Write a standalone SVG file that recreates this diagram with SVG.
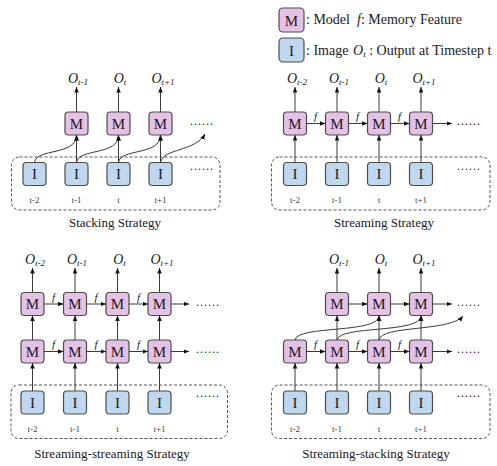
<svg xmlns="http://www.w3.org/2000/svg" width="497" height="466" viewBox="0 0 497 466" font-family="'Liberation Serif', 'DejaVu Serif', serif">
<defs>
<marker id="ah" markerUnits="userSpaceOnUse" markerWidth="6" markerHeight="5" refX="5.5" refY="2.25" orient="auto"><path d="M0,0 L5.5,2.25 L0,4.5 z" fill="#111"/></marker>
</defs>
<style>
svg text, svg tspan{font-family:'Liberation Serif','DejaVu Serif',serif;fill:#1a1a1a}
.m{fill:#E5C1E6;stroke:#4d4d4d;stroke-width:1.2}
.i{fill:#BFD8EF;stroke:#4d4d4d;stroke-width:1.2}
.bl{font-size:15px;text-anchor:middle}
.c{stroke:#3a3a3a;stroke-width:1;fill:none;marker-end:url(#ah)}
.dash{fill:none;stroke:#555;stroke-width:1;stroke-dasharray:3 2}
.ts{font-size:9px;text-anchor:middle;fill:#444}
.title{font-size:13px;text-anchor:middle}
.out{font-size:14px;font-style:italic;text-anchor:middle}
.sub{font-size:9px}
.f{font-size:11px;font-style:italic;text-anchor:middle}
.dots{font-size:12px;letter-spacing:1px}
.leg{font-size:14px}
</style>

<!-- Legend -->
<g id="legend">
<g id="leg-m"><rect class="m" x="279" y="8" width="25" height="24" rx="4"/><text class="bl" x="291.5" y="25.5">M</text></g>
<text class="leg" x="306" y="24">: Model</text>
<text class="leg" x="357" y="24"><tspan font-style="italic">f</tspan>: Memory Feature</text>
<g id="leg-i"><rect class="i" x="279" y="38" width="25" height="24" rx="4"/><text class="bl" x="291.5" y="55.5">I</text></g>
<text class="leg" x="306" y="55">: Image</text>
<text class="leg" x="353" y="55"><tspan font-style="italic">O</tspan><tspan font-style="italic" font-size="9" dy="2">t</tspan><tspan dy="-2"> : Output at Timestep t</tspan></text>
</g>

<!-- ===== Panel 1: Stacking ===== -->
<g id="p1-frame"><rect class="dash" x="11.5" y="157" width="208.5" height="53" rx="8"/></g>
<g id="p1-I0"><rect class="i" x="23" y="162.5" width="23" height="23" rx="3.5"/><text class="bl" x="34.5" y="179">I</text></g>
<g id="p1-I1"><rect class="i" x="65" y="162.5" width="23" height="23" rx="3.5"/><text class="bl" x="76.5" y="179">I</text></g>
<g id="p1-I2"><rect class="i" x="107" y="162.5" width="23" height="23" rx="3.5"/><text class="bl" x="118.5" y="179">I</text></g>
<g id="p1-I3"><rect class="i" x="149" y="162.5" width="23" height="23" rx="3.5"/><text class="bl" x="160.5" y="179">I</text></g>
<g id="p1-M1"><rect class="m" x="65" y="112" width="23" height="23" rx="3.5"/><text class="bl" x="76.5" y="128.5">M</text></g>
<g id="p1-M2"><rect class="m" x="107" y="112" width="23" height="23" rx="3.5"/><text class="bl" x="118.5" y="128.5">M</text></g>
<g id="p1-M3"><rect class="m" x="149" y="112" width="23" height="23" rx="3.5"/><text class="bl" x="160.5" y="128.5">M</text></g>
<g id="p1-labels">
<text class="out" x="78" y="83">O<tspan class="sub" dy="2">t-1</tspan></text>
<text class="out" x="120" y="83">O<tspan class="sub" dy="2">t</tspan></text>
<text class="out" x="163" y="83">O<tspan class="sub" dy="2">t+1</tspan></text>
<text class="ts" x="34.5" y="203">t-2</text><text class="ts" x="76.5" y="203">t-1</text><text class="ts" x="118.5" y="203">t</text><text class="ts" x="160.5" y="203">t+1</text>
<text class="dots" x="190" y="125">......</text>
<text class="dots" x="190" y="169.5">......</text>
<text class="title" x="115" y="227">Stacking Strategy</text>
</g>
<g id="p1-connectors">
<path class="c" d="M76.5,162.5 V135"/>
<path class="c" d="M118.5,162.5 V135"/>
<path class="c" d="M160.5,162.5 V135"/>
<path class="c" d="M34.5,162.5 C36,148 76.5,156 76.5,135"/>
<path class="c" d="M76.5,162.5 C78,148 118.5,156 118.5,135"/>
<path class="c" d="M118.5,162.5 C120,148 160.5,156 160.5,135"/>
<path class="c" d="M160.5,162.5 C163,148 195,152 205,134"/>
<path class="c" d="M76.5,112 V87"/>
<path class="c" d="M118.5,112 V87"/>
<path class="c" d="M160.5,112 V87"/>
</g>

<!-- ===== Panel 2: Streaming ===== -->
<g id="p2-frame"><rect class="dash" x="271.5" y="157" width="218.5" height="53" rx="8"/></g>
<g id="p2-I0"><rect class="i" x="283.5" y="162.5" width="23" height="23" rx="3.5"/><text class="bl" x="295" y="179">I</text></g>
<g id="p2-I1"><rect class="i" x="325.5" y="162.5" width="23" height="23" rx="3.5"/><text class="bl" x="337" y="179">I</text></g>
<g id="p2-I2"><rect class="i" x="367.5" y="162.5" width="23" height="23" rx="3.5"/><text class="bl" x="379" y="179">I</text></g>
<g id="p2-I3"><rect class="i" x="409.5" y="162.5" width="23" height="23" rx="3.5"/><text class="bl" x="421" y="179">I</text></g>
<g id="p2-M0"><rect class="m" x="283.5" y="112" width="23" height="23" rx="3.5"/><text class="bl" x="295" y="128.5">M</text></g>
<g id="p2-M1"><rect class="m" x="325.5" y="112" width="23" height="23" rx="3.5"/><text class="bl" x="337" y="128.5">M</text></g>
<g id="p2-M2"><rect class="m" x="367.5" y="112" width="23" height="23" rx="3.5"/><text class="bl" x="379" y="128.5">M</text></g>
<g id="p2-M3"><rect class="m" x="409.5" y="112" width="23" height="23" rx="3.5"/><text class="bl" x="421" y="128.5">M</text></g>
<g id="p2-labels">
<text class="out" x="297" y="83">O<tspan class="sub" dy="2">t-2</tspan></text>
<text class="out" x="339" y="83">O<tspan class="sub" dy="2">t-1</tspan></text>
<text class="out" x="381" y="83">O<tspan class="sub" dy="2">t</tspan></text>
<text class="out" x="424" y="83">O<tspan class="sub" dy="2">t+1</tspan></text>
<text class="f" x="315.5" y="120">f</text><text class="f" x="357.5" y="120">f</text><text class="f" x="399.5" y="120">f</text>
<text class="ts" x="295" y="203">t-2</text><text class="ts" x="337" y="203">t-1</text><text class="ts" x="379" y="203">t</text><text class="ts" x="421" y="203">t+1</text>
<text class="dots" x="457" y="125">......</text>
<text class="dots" x="457" y="169.5">......</text>
<text class="title" x="384" y="227">Streaming Strategy</text>
</g>
<g id="p2-connectors">
<path class="c" d="M295,162.5 V135"/><path class="c" d="M337,162.5 V135"/><path class="c" d="M379,162.5 V135"/><path class="c" d="M421,162.5 V135"/>
<path class="c" d="M295,112 V87"/><path class="c" d="M337,112 V87"/><path class="c" d="M379,112 V87"/><path class="c" d="M421,112 V87"/>
<path class="c" d="M306.5,123.5 H325.5"/><path class="c" d="M348.5,123.5 H367.5"/><path class="c" d="M390.5,123.5 H409.5"/><path class="c" d="M432.5,123.5 H452"/>
</g>

<!-- ===== Panel 3: Streaming-streaming ===== -->
<g id="p3-frame"><rect class="dash" x="11" y="385" width="216.5" height="53.5" rx="8"/></g>
<g id="p3-I0"><rect class="i" x="21" y="391" width="23" height="23" rx="3.5"/><text class="bl" x="32.5" y="407.5">I</text></g>
<g id="p3-I1"><rect class="i" x="63.5" y="391" width="23" height="23" rx="3.5"/><text class="bl" x="75" y="407.5">I</text></g>
<g id="p3-I2"><rect class="i" x="106" y="391" width="23" height="23" rx="3.5"/><text class="bl" x="117.5" y="407.5">I</text></g>
<g id="p3-I3"><rect class="i" x="148" y="391" width="23" height="23" rx="3.5"/><text class="bl" x="159.5" y="407.5">I</text></g>
<g id="p3-L0"><rect class="m" x="21" y="340" width="23" height="23" rx="3.5"/><text class="bl" x="32.5" y="356.5">M</text></g>
<g id="p3-L1"><rect class="m" x="63.5" y="340" width="23" height="23" rx="3.5"/><text class="bl" x="75" y="356.5">M</text></g>
<g id="p3-L2"><rect class="m" x="106" y="340" width="23" height="23" rx="3.5"/><text class="bl" x="117.5" y="356.5">M</text></g>
<g id="p3-L3"><rect class="m" x="148" y="340" width="23" height="23" rx="3.5"/><text class="bl" x="159.5" y="356.5">M</text></g>
<g id="p3-U0"><rect class="m" x="21" y="292.5" width="23" height="23" rx="3.5"/><text class="bl" x="32.5" y="309">M</text></g>
<g id="p3-U1"><rect class="m" x="63.5" y="292.5" width="23" height="23" rx="3.5"/><text class="bl" x="75" y="309">M</text></g>
<g id="p3-U2"><rect class="m" x="106" y="292.5" width="23" height="23" rx="3.5"/><text class="bl" x="117.5" y="309">M</text></g>
<g id="p3-U3"><rect class="m" x="148" y="292.5" width="23" height="23" rx="3.5"/><text class="bl" x="159.5" y="309">M</text></g>
<g id="p3-labels">
<text class="out" x="35" y="264">O<tspan class="sub" dy="2">t-2</tspan></text>
<text class="out" x="77" y="264">O<tspan class="sub" dy="2">t-1</tspan></text>
<text class="out" x="119.5" y="264">O<tspan class="sub" dy="2">t</tspan></text>
<text class="out" x="162" y="264">O<tspan class="sub" dy="2">t+1</tspan></text>
<text class="f" x="53.5" y="301">f</text><text class="f" x="96" y="301">f</text><text class="f" x="138.5" y="301">f</text>
<text class="f" x="53.5" y="348">f</text><text class="f" x="96" y="348">f</text><text class="f" x="138.5" y="348">f</text>
<text class="ts" x="32.5" y="431.5">t-2</text><text class="ts" x="75" y="431.5">t-1</text><text class="ts" x="117.5" y="431.5">t</text><text class="ts" x="159.5" y="431.5">t+1</text>
<text class="dots" x="196" y="306">......</text>
<text class="dots" x="196" y="353">......</text>
<text class="dots" x="196" y="396.5">......</text>
<text class="title" x="112" y="458">Streaming-streaming Strategy</text>
</g>
<g id="p3-connectors">
<path class="c" d="M32.5,391 V363"/><path class="c" d="M75,391 V363"/><path class="c" d="M117.5,391 V363"/><path class="c" d="M159.5,391 V363"/>
<path class="c" d="M32.5,340 V315.5"/><path class="c" d="M75,340 V315.5"/><path class="c" d="M117.5,340 V315.5"/><path class="c" d="M159.5,340 V315.5"/>
<path class="c" d="M32.5,292.5 V268"/><path class="c" d="M75,292.5 V268"/><path class="c" d="M117.5,292.5 V268"/><path class="c" d="M159.5,292.5 V268"/>
<path class="c" d="M44,304 H63.5"/><path class="c" d="M86.5,304 H106"/><path class="c" d="M129,304 H148"/><path class="c" d="M171,304 H189"/>
<path class="c" d="M44,351.5 H63.5"/><path class="c" d="M86.5,351.5 H106"/><path class="c" d="M129,351.5 H148"/><path class="c" d="M171,351.5 H189"/>
</g>

<!-- ===== Panel 4: Streaming-stacking ===== -->
<g id="p4-frame"><rect class="dash" x="271.5" y="385" width="218.5" height="53.5" rx="8"/></g>
<g id="p4-I0"><rect class="i" x="283.5" y="391" width="23" height="23" rx="3.5"/><text class="bl" x="295" y="407.5">I</text></g>
<g id="p4-I1"><rect class="i" x="325.5" y="391" width="23" height="23" rx="3.5"/><text class="bl" x="337" y="407.5">I</text></g>
<g id="p4-I2"><rect class="i" x="367.5" y="391" width="23" height="23" rx="3.5"/><text class="bl" x="379" y="407.5">I</text></g>
<g id="p4-I3"><rect class="i" x="409.5" y="391" width="23" height="23" rx="3.5"/><text class="bl" x="421" y="407.5">I</text></g>
<g id="p4-L0"><rect class="m" x="283.5" y="340" width="23" height="23" rx="3.5"/><text class="bl" x="295" y="356.5">M</text></g>
<g id="p4-L1"><rect class="m" x="325.5" y="340" width="23" height="23" rx="3.5"/><text class="bl" x="337" y="356.5">M</text></g>
<g id="p4-L2"><rect class="m" x="367.5" y="340" width="23" height="23" rx="3.5"/><text class="bl" x="379" y="356.5">M</text></g>
<g id="p4-L3"><rect class="m" x="409.5" y="340" width="23" height="23" rx="3.5"/><text class="bl" x="421" y="356.5">M</text></g>
<g id="p4-U1"><rect class="m" x="325.5" y="292.5" width="23" height="23" rx="3.5"/><text class="bl" x="337" y="309">M</text></g>
<g id="p4-U2"><rect class="m" x="367.5" y="292.5" width="23" height="23" rx="3.5"/><text class="bl" x="379" y="309">M</text></g>
<g id="p4-U3"><rect class="m" x="409.5" y="292.5" width="23" height="23" rx="3.5"/><text class="bl" x="421" y="309">M</text></g>
<g id="p4-labels">
<text class="out" x="339" y="264">O<tspan class="sub" dy="2">t-1</tspan></text>
<text class="out" x="381" y="264">O<tspan class="sub" dy="2">t</tspan></text>
<text class="out" x="424" y="264">O<tspan class="sub" dy="2">t+1</tspan></text>
<text class="f" x="315.5" y="348">f</text><text class="f" x="357.5" y="348">f</text><text class="f" x="399.5" y="348">f</text>
<text class="ts" x="295" y="431.5">t-2</text><text class="ts" x="337" y="431.5">t-1</text><text class="ts" x="379" y="431.5">t</text><text class="ts" x="421" y="431.5">t+1</text>
<text class="dots" x="457" y="306">......</text>
<text class="dots" x="457" y="353">......</text>
<text class="dots" x="457" y="396.5">......</text>
<text class="title" x="376" y="458">Streaming-stacking Strategy</text>
</g>
<g id="p4-connectors">
<path class="c" d="M295,391 V363"/><path class="c" d="M337,391 V363"/><path class="c" d="M379,391 V363"/><path class="c" d="M421,391 V363"/>
<path class="c" d="M337,340 V315.5"/><path class="c" d="M379,340 V315.5"/><path class="c" d="M421,340 V315.5"/>
<path class="c" d="M337,292.5 V268"/><path class="c" d="M379,292.5 V268"/><path class="c" d="M421,292.5 V268"/>
<path class="c" d="M348.5,304 H367.5"/><path class="c" d="M390.5,304 H409.5"/><path class="c" d="M432.5,304 H452"/>
<path class="c" d="M306.5,351.5 H325.5"/><path class="c" d="M348.5,351.5 H367.5"/><path class="c" d="M390.5,351.5 H409.5"/><path class="c" d="M432.5,351.5 H452"/>
<path class="c" d="M295,340 C297,325 379,334 379,315.5"/>
<path class="c" d="M337,340 C339,325 421,334 421,315.5"/>
<path class="c" d="M379,340 C381,325 450,332 463,316"/>
</g>
</svg>
